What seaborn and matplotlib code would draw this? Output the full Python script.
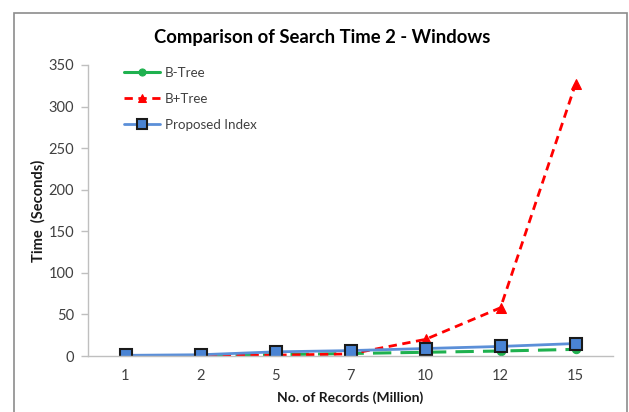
import matplotlib
matplotlib.use("Agg")
import matplotlib.pyplot as plt
from matplotlib.patches import Rectangle
import seaborn as sns
import numpy as np

records = ["1", "2", "5", "7", "10", "12", "15"]
btree = [0.2, 0.5, 1.5, 3.0, 4.5, 6.0, 8.0]
bplustree = [0.2, 0.5, 1.0, 2.5, 20.0, 58.0, 327.0]
proposed = [0.8, 1.5, 5.0, 6.5, 9.0, 11.5, 15.0]
yticks = [0, 50, 100, 150, 200, 250, 300, 350]

sns.set_theme(style="white")
plt.rcParams['font.family'] = ['Lato', 'DejaVu Sans']

fig = plt.figure(figsize=(6.29, 4.12), dpi=100)
ax = fig.add_axes([88/629, 1-356/412, (613-88)/629, (356-65)/412])

sns.lineplot(x=records, y=btree, ax=ax, color="#1fb14f", linestyle=(0, (6, 3)), lw=2.2,
             marker="o", markersize=6, markeredgecolor="#1fb14f", label="B-Tree", sort=False)
sns.lineplot(x=records, y=bplustree, ax=ax, color="#ff0000", linestyle=(0, (3, 2)), lw=2.0,
             marker="^", markersize=7, markeredgecolor="#ff0000", label="B+Tree", sort=False)
sns.lineplot(x=records, y=proposed, ax=ax, color="#5b8fd8", linestyle="-", lw=2.0,
             marker="s", markersize=8, markerfacecolor="#4a84d4", markeredgecolor="#1a1a1a",
             markeredgewidth=1.5, label="Proposed Index", sort=False)

ax.set_xlim(-0.5, 6.5)
ax.set_ylim(0, 350)
ax.set_yticks(yticks)
ax.set_yticklabels([str(t) for t in yticks])

for s in ["top", "right"]:
    ax.spines[s].set_visible(False)
for s in ["left", "bottom"]:
    ax.spines[s].set_color("#bfbfbf")
    ax.spines[s].set_linewidth(1.0)

ax.set_xticks(np.arange(-0.5, 7, 1.0), minor=True)
ax.tick_params(axis="x", which="major", length=0, pad=9, labelsize=10.5, labelcolor="#404040")
ax.tick_params(axis="x", which="minor", length=5, color="#bfbfbf", width=1, direction="out")
ax.tick_params(axis="y", which="major", length=5, color="#bfbfbf", width=1, direction="out",
               left=True, pad=5, labelsize=10.5, labelcolor="#404040")

ax.set_xlabel("No. of Records (Million)", fontsize=10, fontweight="bold", color="#1a1a1a", labelpad=6)
ax.set_ylabel("Time  (Seconds)", fontsize=10.5, fontweight="bold", color="#1a1a1a", labelpad=2)

fig.text(322/629, 1-38/412, "Comparison of Search Time 2 - Windows", ha="center", va="center",
         fontsize=13.3, fontweight="bold", color="#000000")

leg = ax.legend(loc="upper left", bbox_to_anchor=(0.045, 1.035), frameon=False, fontsize=9.6,
                handlelength=2.7, labelspacing=1.05, handletextpad=0.4, numpoints=1,
                markerscale=0.85)
for t in leg.get_texts():
    t.set_color("#404040")
leg.get_lines()[0].set_linestyle("-")

fig.patches.append(Rectangle((13.5/629, -0.1), (627-13.5)/629, 1.1 - 13/412,
                             transform=fig.transFigure, fill=False, edgecolor="#8c8c8c", lw=1.2))

fig.savefig("out.png", dpi=100)
